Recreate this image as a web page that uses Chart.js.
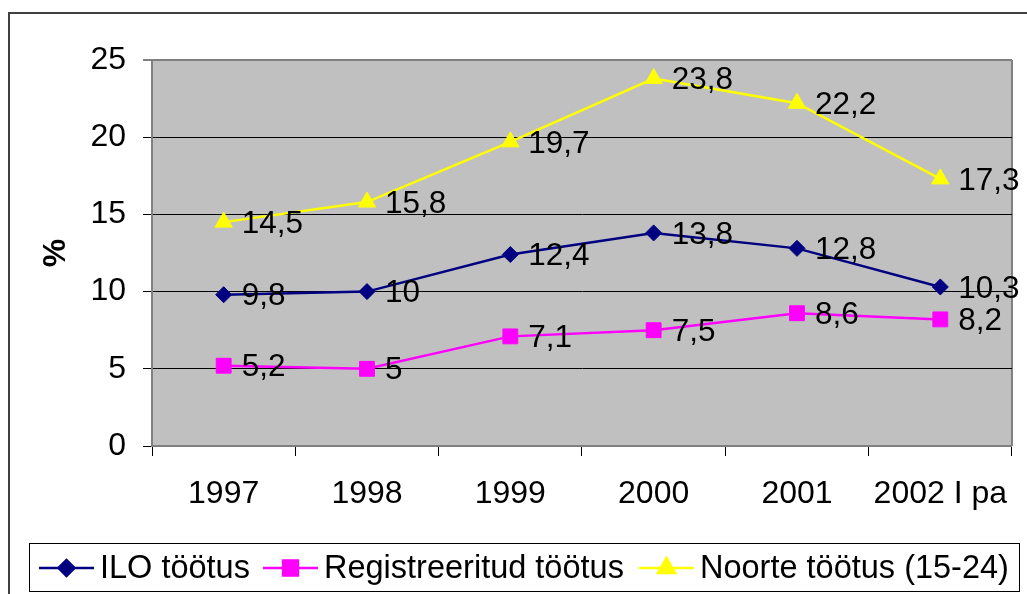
<!DOCTYPE html>
<html>
<head>
<meta charset="utf-8">
<script src="https://cdn.jsdelivr.net/npm/chart.js@4.4.0/dist/chart.umd.min.js"></script>
<style>
  html, body { margin: 0; padding: 0; background: #fff; }
  #wrap { width: 1027px; height: 594px; }
</style>
</head>
<body>
<div id="wrap"><canvas id="myChart" width="1027" height="594"></canvas></div>
<script>
// Data
const years = ['1997', '1998', '1999', '2000', '2001', '2002 I pa'];
const iloValues = [9.8, 10, 12.4, 13.8, 12.8, 10.3];
const regValues = [5.2, 5, 7.1, 7.5, 8.6, 8.2];
const youthValues = [14.5, 15.8, 19.7, 23.8, 22.2, 17.3];
const yTicks = [0, 5, 10, 15, 20, 25];

const FONT = "'Liberation Sans', Arial, sans-serif";
Chart.defaults.font.family = FONT;
Chart.defaults.color = '#000';

// Gray plot area + outer frame
const backgroundPlugin = {
  id: 'background',
  beforeDraw(chart) {
    const { ctx, chartArea } = chart;
    ctx.save();
    ctx.fillStyle = '#fff';
    ctx.fillRect(0, 0, chart.width, chart.height);
    ctx.strokeStyle = '#404040';
    ctx.lineWidth = 2;
    ctx.strokeRect(9, 13, chart.width + 10, chart.height + 10);
    ctx.fillStyle = '#C0C0C0';
    ctx.fillRect(chartArea.left, chartArea.top, chartArea.right - chartArea.left, chartArea.bottom - chartArea.top);
    ctx.strokeStyle = '#808080';
    ctx.lineWidth = 2;
    ctx.beginPath();
    ctx.moveTo(chartArea.right, chartArea.top);
    ctx.lineTo(chartArea.right, chartArea.bottom);
    ctx.stroke();
    ctx.restore();
  }
};

// Value labels right of each point
const valueLabels = {
  id: 'valueLabels',
  afterDatasetsDraw(chart) {
    const { ctx } = chart;
    ctx.save();
    ctx.font = '31.5px ' + FONT;
    ctx.fillStyle = '#000';
    ctx.textAlign = 'left';
    ctx.textBaseline = 'middle';
    chart.data.datasets.forEach((ds, i) => {
      chart.getDatasetMeta(i).data.forEach((pt, j) => {
        ctx.fillText(String(ds.data[j]).replace('.', ','), pt.x + 18, pt.y + 2);
      });
    });
    ctx.restore();
  }
};

// Legend box at the bottom
const legendStarts = [39, 263, 639];
const legendBox = {
  id: 'legendBox',
  afterDraw(chart) {
    const { ctx } = chart;
    ctx.save();
    ctx.strokeStyle = '#000';
    ctx.lineWidth = 1;
    ctx.strokeRect(29.5, 543.5, 990, 48);
    ctx.font = '32.5px ' + FONT;
    ctx.textBaseline = 'middle';
    ctx.fillStyle = '#000';
    const y = 568;
    chart.data.datasets.forEach((ds, i) => {
      const x = legendStarts[i];
      ctx.strokeStyle = ds.borderColor;
      ctx.lineWidth = 2.5;
      ctx.beginPath();
      ctx.moveTo(x, y);
      ctx.lineTo(x + 55, y);
      ctx.stroke();
      Chart.helpers.drawPoint(ctx, {
        pointStyle: ds.pointStyle,
        radius: ds.pointRadius,
        borderWidth: 1
      }, x + 27.5, y);
      ctx.fillStyle = ds.backgroundColor;
      ctx.fill();
      ctx.fillStyle = '#000';
      ctx.fillText(ds.label, x + 61, y + 1);
    });
    ctx.restore();
  }
};

const ctx = document.getElementById('myChart');
new Chart(ctx, {
  type: 'line',
  data: {
    labels: years,
    datasets: [
      {
        label: 'ILO töötus',
        data: iloValues,
        borderColor: '#000080',
        backgroundColor: '#000080',
        borderWidth: 2.5,
        pointStyle: 'rectRot',
        pointRadius: 8,
        pointBorderWidth: 1
      },
      {
        label: 'Registreeritud töötus',
        data: regValues,
        borderColor: '#FF00FF',
        backgroundColor: '#FF00FF',
        borderWidth: 2.5,
        pointStyle: 'rect',
        pointRadius: 10.5,
        pointBorderWidth: 1
      },
      {
        label: 'Noorte töötus (15-24)',
        data: youthValues,
        borderColor: '#FFFF00',
        backgroundColor: '#FFFF00',
        borderWidth: 2.5,
        pointStyle: 'triangle',
        pointRadius: 10,
        pointBorderWidth: 1
      }
    ]
  },
  options: {
    responsive: false,
    animation: false,
    events: [],
    layout: {
      padding: { top: 60, right: 7, left: 0, bottom: 0 }
    },
    plugins: {
      legend: { display: false },
      tooltip: { enabled: false }
    },
    scales: {
      x: {
        offset: true,
        grid: {
          offset: true,
          drawOnChartArea: false,
          tickLength: 10,
          tickColor: '#000'
        },
        border: { color: '#808080', width: 2 },
        ticks: {
          font: { size: 32 },
          padding: 19,
          maxRotation: 0,
          autoSkip: false
        },
        afterFit(scale) { scale.height = 148; }
      },
      y: {
        min: 0,
        max: 25,
        afterBuildTicks(scale) { scale.ticks = yTicks.map(v => ({ value: v })); },
        grid: {
          color: (c) => c.tick && c.tick.value === 25 ? '#808080' : '#000',
          lineWidth: (c) => c.tick && c.tick.value === 25 ? 2 : 1,
          tickLength: 9
        },
        border: { color: '#808080', width: 2 },
        ticks: {
          font: { size: 32 },
          padding: 17
        },
        title: {
          display: true,
          text: '%',
          font: { size: 32, weight: 'bold' },
          padding: { top: 37, bottom: 0 }
        },
        afterFit(scale) { scale.width = 152; }
      }
    }
  },
  plugins: [backgroundPlugin, valueLabels, legendBox]
});
</script>
</body>
</html>
